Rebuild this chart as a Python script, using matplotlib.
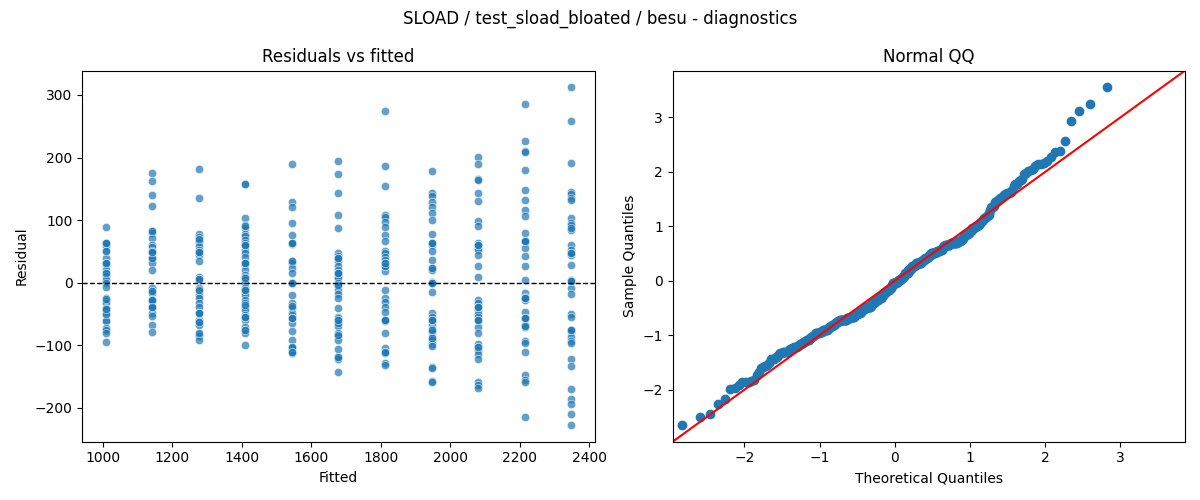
import math
import numpy as np
import pandas as pd
import matplotlib
import matplotlib.pyplot as plt
import seaborn as sns
matplotlib.use('Agg')

fitted_levels = [1008, 1142, 1276, 1410, 1544, 1678, 1812, 1946, 2080, 2214, 2348]

# residuals per fitted level (visible points + overlapping ones at the darker spots)
res_1008 = [89, 63, 59, 50, 40, 31, 28, 20, 16, 11, 5, -1, -7, -24, -29, -33, -41, -44,
            -50, -59, -61, -72, -76, -81, -94,
            63, 50, 31, 15, -26, -42, -50, 31, -42, 63]
res_1142 = [175, 162, 141, 122, 83, 79, 72, 60, 57, 50, 48, 40, 38, 31, 21, -9, -13, -17,
            -28, -30, -38, -41, -49, -53, -68, -79,
            82, 49, 39, -13, -27, -39, 49, -27, -39]
res_1276 = [182, 136, 78, 73, 68, 65, 58, 52, 48, 44, 34, 10, 5, -9, -13, -20, -25, -33,
            -38, -49, -60, -62, -68, -82, -85, -92,
            70, 49, 6, -11, -48, -62, -81, 49, -48, 6]
res_1410 = [157, 157, 103, 92, 88, 78, 75, 68, 63, 59, 52, 47, 41, 31, 29, 20, 12, 9, 4,
            -1, -9, -14, -20, -28, -33, -38, -44, -51, -55, -60, -70, -76, -81, -100,
            90, 61, 31, 8, -11, -35, -54, -75, 61, 31, -54, -11]
res_1544 = [189, 129, 121, 96, 77, 64, 62, 35, 32, 24, 16, -1, -20, -33, -37, -41, -48,
            -52, -57, -65, -77, -91, -102, -104, -110, -112,
            63, 34, 0, -37, -56, -102, -111, 0, -56, 63]
res_1678 = [194, 173, 144, 108, 88, 47, 43, 38, 35, 26, 20, 15, 11, 7, -1, -5, -12, -18,
            -25, -41, -54, -57, -66, -69, -81, -85, -91, -106, -119, -122, -142,
            39, 15, -3, -59, -65, -83, -118, 15, -59, 39]
res_1812 = [274, 187, 155, 108, 105, 97, 89, 76, 67, 50, 47, 41, 36, 32, 26, 18, -11, -25,
            -30, -38, -46, -59, -61, -81, -105, -110, -113, -128, -131,
            31, 26, -59, -110, 26, -59, 31]
res_1946 = [178, 143, 138, 129, 121, 112, 100, 78, 64, 60, 50, 36, 23, 21, 2, -1, -14, -49,
            -54, -61, -67, -74, -78, -86, -92, -98, -101, -134, -136, -157, -158,
            63, 23, 0, -59, -75, -88, 0, -59, 63]
res_2080 = [201, 189, 166, 164, 144, 130, 99, 90, 64, 60, 56, 52, 44, 26, 9, -27, -33, -39,
            -44, -50, -54, -61, -70, -81, -98, -102, -107, -114, -121, -158, -163, -168,
            61, -38, -59, -102, 61, -59, -38]
res_2214 = [285, 226, 211, 209, 180, 148, 132, 117, 106, 79, 67, 65, 55, 43, 26, 5, -16,
            -22, -27, -46, -57, -68, -71, -93, -97, -111, -147, -155, -158, -214,
            67, -24, -56, -69, -56, 67, -24]
res_2348 = [312, 258, 191, 145, 142, 135, 132, 104, 96, 92, 85, 60, 52, 48, 44, 28, 4, 2,
            -9, -18, -50, -55, -75, -78, -86, -93, -96, -121, -133, -170, -186, -193, -209,
            -227,
            87, 47, 3, -75, 47, 3, -75]

groups = [res_1008, res_1142, res_1276, res_1410, res_1544, res_1678,
          res_1812, res_1946, res_2080, res_2214, res_2348]
rows = []
for f, vals in zip(fitted_levels, groups):
    for r in vals:
        rows.append((f, r))
df = pd.DataFrame(rows, columns=["fitted", "resid"])


def norm_ppf(p):
    # bisection on the normal cdf
    lo, hi = -10.0, 10.0
    for _ in range(80):
        mid = (lo + hi) / 2
        if 0.5 * (1 + math.erf(mid / math.sqrt(2))) < p:
            lo = mid
        else:
            hi = mid
    return (lo + hi) / 2


# QQ data (standardised residuals vs normal quantiles, like statsmodels qqplot fit=True)
n = len(df)
sample_q = np.sort((df["resid"] - df["resid"].mean()) / df["resid"].std(ddof=0))
theo_q = np.array([norm_ppf(i / (n + 1)) for i in range(1, n + 1)])

fig, axes = plt.subplots(1, 2, figsize=(12, 5))
fig.suptitle("SLOAD / test_sload_bloated / besu - diagnostics")

ax = axes[0]
sns.scatterplot(data=df, x="fitted", y="resid", alpha=0.7, ax=ax)
ax.axhline(0, color="black", linestyle="--", linewidth=1)
ax.set_title("Residuals vs fitted")
ax.set_xlabel("Fitted")
ax.set_ylabel("Residual")

ax = axes[1]
ax.plot(theo_q, sample_q, marker="o", linestyle="none", color="C0")
end_pts = list(ax.get_ylim())
ax.plot(end_pts, end_pts, "r-")
ax.set_xlim(end_pts)
ax.set_ylim(end_pts)
ax.set_title("Normal QQ")
ax.set_xlabel("Theoretical Quantiles")
ax.set_ylabel("Sample Quantiles")

plt.tight_layout()
plt.savefig("out.png", dpi=100)
